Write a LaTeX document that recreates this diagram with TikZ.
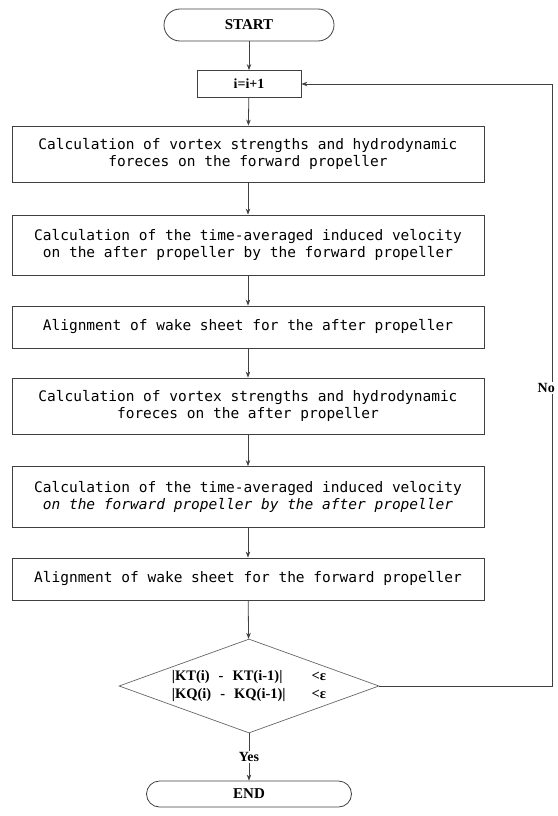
\documentclass[tikz,border=0pt]{standalone}
\usepackage{fontspec}
\setmainfont{Liberation Serif}
\newfontfamily\boxfont{DejaVu Sans Mono}
\usetikzlibrary{shapes.geometric,arrows.meta}

\tikzset{
  flow/.style={draw=black!75, line width=0.8pt, -{Stealth[length=6pt,width=4.5pt]}},
  procbox/.style={draw=black!75, line width=0.8pt, minimum width=472pt, align=center,
    inner sep=0pt, font=\boxfont\fontsize{14.5}{17.5}\selectfont},
  termbox/.style={draw=black!75, line width=0.8pt, rounded corners=13pt,
    font=\bfseries\fontsize{15}{18}\selectfont},
  checkbox/.style={draw=black!60, line width=0.7pt, diamond, aspect=2.77, inner sep=0pt,
    minimum width=260pt, minimum height=94pt, font=\bfseries\fontsize{14.5}{18}\selectfont},
  lbl/.style={fill=white, inner sep=1pt, font=\bfseries\fontsize{14}{16}\selectfont}
}

\begin{document}
\begin{tikzpicture}[x=1pt, y=-1pt]
    \useasboundingbox (0,0) rectangle (557,816);

    \node[termbox, minimum width=170pt, minimum height=32pt, rounded corners=16pt] (start) at (249,25) {START};
    \node[draw=black!75, line width=0.8pt, minimum width=104pt, minimum height=27pt,
          font=\bfseries\fontsize{14}{16}\selectfont] (incr) at (249,84) {i=i+1};

    \node[procbox, minimum height=56pt] (forcefwd) at (248,154)
        {Calculation of vortex strengths and hydrodynamic\\foreces on the forward propeller};
    \node[procbox, minimum height=60pt] (velaft) at (248,245)
        {Calculation of the time-averaged induced velocity\\on the after propeller by the forward propeller};
    \node[procbox, minimum height=42pt] (wakeaft) at (248,327)
        {Alignment of wake sheet for the after propeller};
    \node[procbox, minimum height=56pt] (forceaft) at (248,406)
        {Calculation of vortex strengths and hydrodynamic\\foreces on the after propeller};
    \node[procbox, minimum height=61pt] (velfwd) at (248,497)
        {Calculation of the time-averaged induced velocity\\{\itshape on the forward propeller by the after propeller}};
    \node[procbox, minimum height=42pt] (wakefwd) at (248,579)
        {Alignment of wake sheet for the forward propeller};

    \node[checkbox] (check) at (249,686) {%
        \begin{tabular}{@{}l@{\hspace{26pt}}l@{}}
        |KT(i)\hspace{9pt}-\hspace{9pt}KT(i-1)| & <ε\\
        |KQ(i)\hspace{9pt}-\hspace{9pt}KQ(i-1)| & <ε
        \end{tabular}};

    \node[termbox, minimum width=205pt, minimum height=26pt] (end) at (249,794) {END};

    % main flow
    \draw[flow] (start) -- (incr);
    \draw[flow] (incr) -- (forcefwd);
    \draw[flow] (forcefwd) -- (velaft);
    \draw[flow] (velaft) -- (wakeaft);
    \draw[flow] (wakeaft) -- (forceaft);
    \draw[flow] (forceaft) -- (velfwd);
    \draw[flow] (velfwd) -- (wakefwd);
    \draw[flow] (wakefwd) -- (check);
    \draw[flow] (check) -- node[lbl] (yes) {Yes} (end);

    % loop back
    \coordinate (loopbot) at (552,686);
    \coordinate (looptop) at (552,84);
    \draw[flow] (check.east) -- (loopbot) -- (looptop) -- (incr.east);
    \node[lbl, anchor=east] (no) at (556,388) {No};
\end{tikzpicture}
\end{document}
